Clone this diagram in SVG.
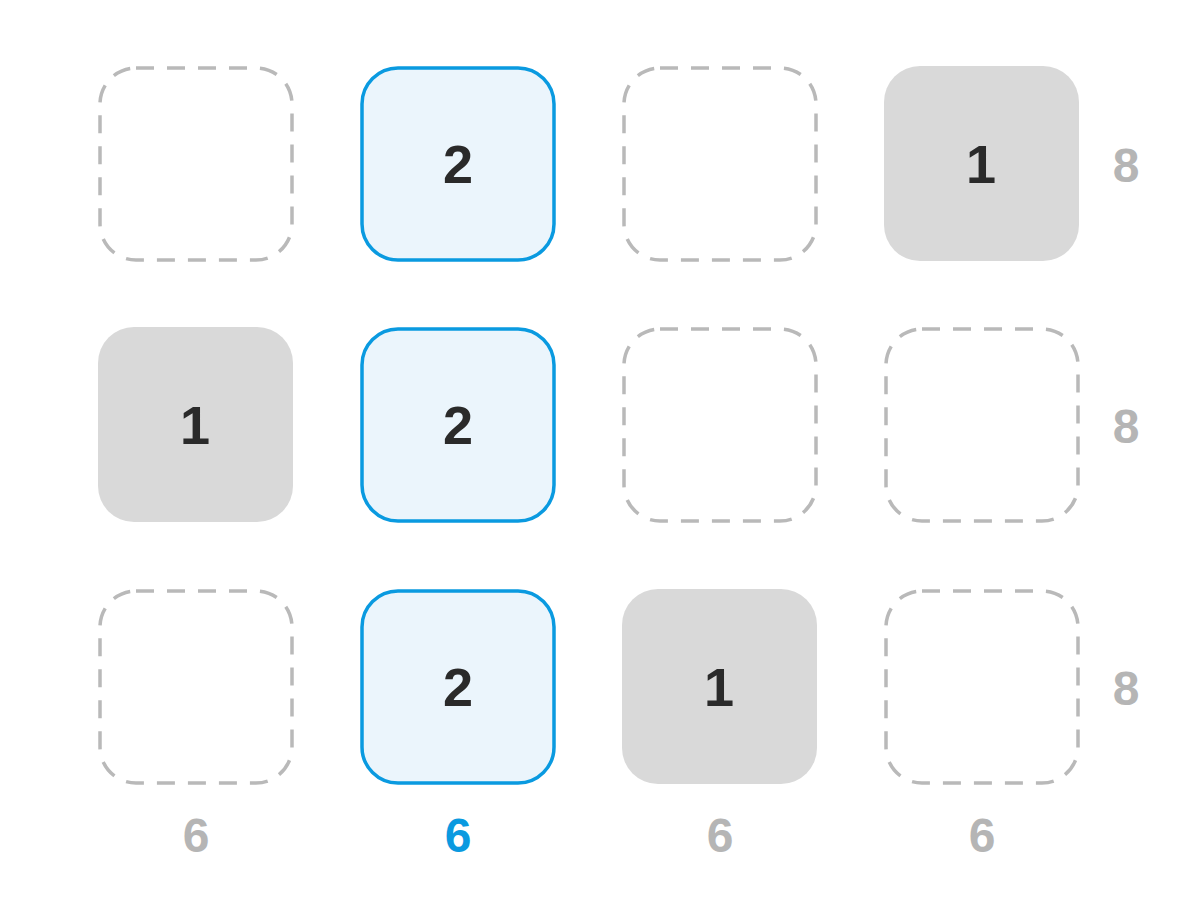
<svg xmlns="http://www.w3.org/2000/svg" width="1200" height="899" viewBox="0 0 1200 899">
<style>
.empty{fill:#ffffff;stroke:#b9b9b9;stroke-width:3.5;stroke-dasharray:18 13}
.fill{fill:#d9d9d9;stroke:none}
.sel{fill:#ebf5fc;stroke:#0a9ae0;stroke-width:3.5}
.num{font-family:"Liberation Sans","DejaVu Sans",sans-serif;font-weight:bold;font-size:54px;fill:#2a2a2a;text-anchor:middle}
.lab{font-family:"Liberation Sans","DejaVu Sans",sans-serif;font-weight:bold;font-size:48px;fill:#b5b5b5;text-anchor:middle}
.labsel{fill:#0a9ae0}
</style>
<rect width="1200" height="899" fill="#ffffff"/>
<g id="r1c1"><rect class="empty" x="100" y="68" width="192" height="192" rx="36"/></g>
<g id="r1c2"><rect class="sel" x="362" y="68" width="192" height="192" rx="36"/><text class="num" x="458" y="183">2</text></g>
<g id="r1c3"><rect class="empty" x="624" y="68" width="192" height="192" rx="36"/></g>
<g id="r1c4"><rect class="fill" x="884" y="66" width="195" height="195" rx="36"/><text class="num" x="981" y="183">1</text></g>
<g id="r2c1"><rect class="fill" x="98" y="327" width="195" height="195" rx="36"/><text class="num" x="195" y="444">1</text></g>
<g id="r2c2"><rect class="sel" x="362" y="329" width="192" height="192" rx="36"/><text class="num" x="458" y="444">2</text></g>
<g id="r2c3"><rect class="empty" x="624" y="329" width="192" height="192" rx="36"/></g>
<g id="r2c4"><rect class="empty" x="886" y="329" width="192" height="192" rx="36"/></g>
<g id="r3c1"><rect class="empty" x="100" y="591" width="192" height="192" rx="36"/></g>
<g id="r3c2"><rect class="sel" x="362" y="591" width="192" height="192" rx="36"/><text class="num" x="458" y="706">2</text></g>
<g id="r3c3"><rect class="fill" x="622" y="589" width="195" height="195" rx="36"/><text class="num" x="719" y="706">1</text></g>
<g id="r3c4"><rect class="empty" x="886" y="591" width="192" height="192" rx="36"/></g>
<g id="rowlabels">
<text class="lab" x="1126" y="182">8</text>
<text class="lab" x="1126" y="443">8</text>
<text class="lab" x="1126" y="705">8</text>
</g>
<g id="collabels">
<text class="lab" x="196" y="852">6</text>
<text class="lab labsel" x="458" y="852">6</text>
<text class="lab" x="720" y="852">6</text>
<text class="lab" x="982" y="852">6</text>
</g>
<g id="connectors"/>
</svg>
